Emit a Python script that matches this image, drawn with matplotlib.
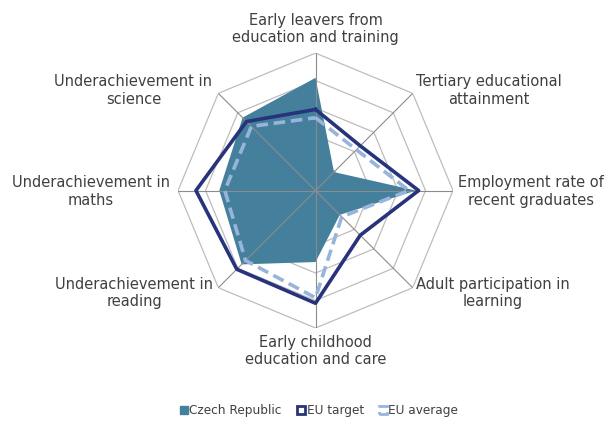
import numpy as np
import matplotlib.pyplot as plt
from matplotlib.patches import Patch

# axes, clockwise from the top
categories = [
    "Early leavers from\neducation and training",
    "Tertiary educational\nattainment",
    "Employment rate of\nrecent graduates",
    "Adult participation in\nlearning",
    "Early childhood\neducation and care",
    "Underachievement in\nreading",
    "Underachievement in\nmaths",
    "Underachievement in\nscience",
]

# normalised scores (0 = centre, 1 = outer ring)
czech = [0.82, 0.19, 0.73, 0.25, 0.52, 0.76, 0.70, 0.75]
eu_target = [0.59, 0.46, 0.75, 0.46, 0.82, 0.81, 0.87, 0.71]
eu_average = [0.53, 0.42, 0.68, 0.27, 0.78, 0.72, 0.66, 0.66]

rings = [0.2, 0.4, 0.6, 0.8, 1.0]

C_CZ = '#44809C'
C_TGT = '#27337A'
C_AVG = '#97B5DC'
C_TXT = '#404040'

n = len(categories)
theta = np.arange(n) * 2 * np.pi / n
th_closed = np.append(theta, theta[0])

def closed(v):
    return np.append(v, v[0])

fig = plt.figure(figsize=(6.07, 4.21), dpi=100)
ax = fig.add_axes([0.2933, 0.2209, 0.453, 0.653], projection='polar')
ax.set_theta_offset(np.pi / 2)
ax.set_theta_direction(-1)
ax.set_ylim(0, 1)
ax.grid(False)
ax.set_xticks([])
ax.set_yticks([])
ax.spines['polar'].set_visible(False)
ax.patch.set_alpha(0)

# octagonal rings and spokes
for r in rings:
    ax.plot(th_closed, [r] * (n + 1), color='#BDBDBD', lw=0.9, zorder=1)
for t in theta:
    ax.plot([t, t], [0, 1], color='#8C8C8C', lw=0.8, zorder=3)

ax.fill(th_closed, closed(czech), color=C_CZ, lw=0, zorder=2)
ax.plot(th_closed, closed(eu_target), color=C_TGT, lw=2.6, zorder=5)
ax.plot(th_closed, closed(eu_average), color=C_AVG, lw=2.6,
        dashes=(3.2, 1.6), zorder=4)

# category labels: (dx, dy) in pixels from the outer vertex, ha, va
placement = [
    (0, 8, 'center', 'bottom'),
    (3, 3, 'left', 'center'),
    (5, -1, 'left', 'center'),
    (3, -5, 'left', 'center'),
    (0, -7, 'center', 'top'),
    (-5, -5, 'right', 'center'),
    (-8, -1, 'right', 'center'),
    (-6, 3, 'right', 'center'),
]
for t, lab, (dx, dy, ha, va) in zip(theta, categories, placement):
    ax.annotate(lab, xy=(t, 1), xytext=(dx, dy), textcoords='offset pixels',
                ha=ha, va=va, multialignment='center',
                fontsize=10.5, color=C_TXT, linespacing=1.2)

handles = [
    Patch(facecolor=C_CZ, edgecolor=C_CZ, label='Czech Republic'),
    Patch(facecolor='white', edgecolor=C_TGT, lw=2, label='EU target'),
    Patch(facecolor='white', edgecolor=C_AVG, lw=2, linestyle='--',
          label='EU average'),
]
fig.legend(handles=handles, loc='center', bbox_to_anchor=(0.526, 0.024),
           ncol=3, frameon=False, fontsize=8.7, handlelength=0.6,
           handleheight=0.6, handletextpad=0.15, columnspacing=1.3,
           labelcolor=C_TXT)

plt.savefig('out.png', dpi=100)
